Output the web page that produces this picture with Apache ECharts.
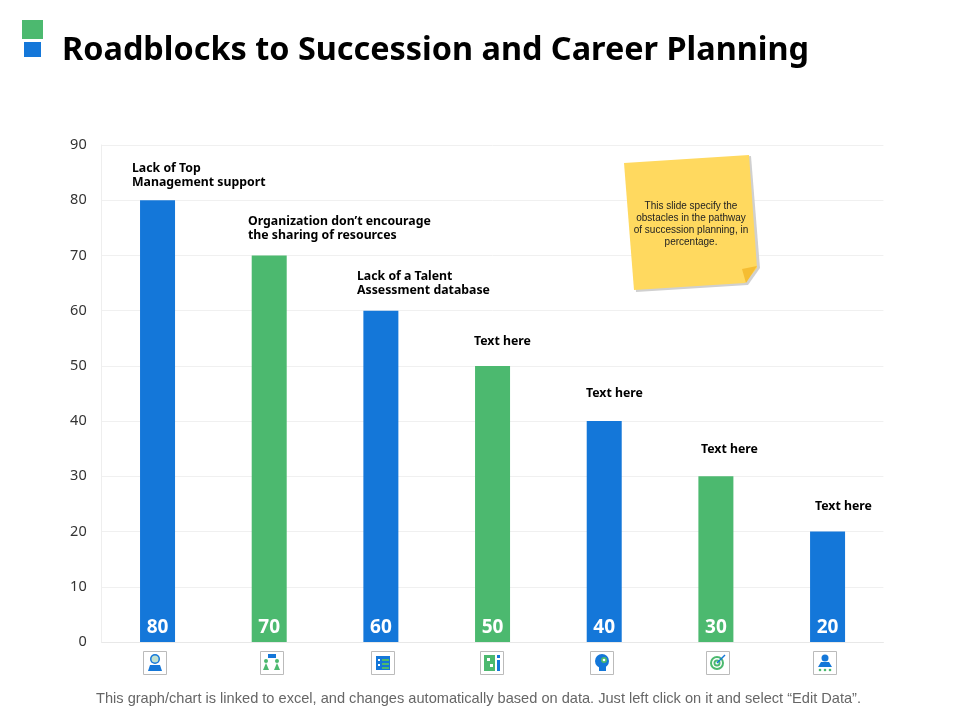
<!DOCTYPE html>
<html>
<head>
<meta charset="utf-8">
<style>
  html, body { margin: 0; padding: 0; background: #fff; }
  #chart { width: 960px; height: 720px; }
</style>
<script src="https://cdn.jsdelivr.net/npm/echarts@6/dist/echarts.min.js"></script>
</head>
<body>
<div id="chart"></div>
<script>
const categories = ['Lack of Top Management support', 'Organization don\u2019t encourage the sharing of resources', 'Lack of a Talent Assessment database', 'Text here 1', 'Text here 2', 'Text here 3', 'Text here 4'];
const values = [80, 70, 60, 50, 40, 30, 20];
const yTicks = [0, 10, 20, 30, 40, 50, 60, 70, 80, 90];

const BLUE = '#1477D9';
const GREEN = '#4CB96F';
const barColors = [BLUE, GREEN, BLUE, GREEN, BLUE, GREEN, BLUE];

const titleText = 'Roadblocks to Succession and Career Planning';
const footerText = 'This graph/chart is linked to excel, and changes automatically based on data. Just left click on it and select \u201cEdit Data\u201d.';
const noteText = 'This slide specify the\nobstacles in the pathway\nof succession planning, in\npercentage.';

// annotation text above the bars: [x, y, text]
const annotations = [
  [132, 161, 'Lack of Top\nManagement support'],
  [248, 214, 'Organization don\u2019t encourage\nthe sharing of resources'],
  [357, 269, 'Lack of a Talent\nAssessment database'],
  [474, 334, 'Text here'],
  [586, 386, 'Text here'],
  [701, 442, 'Text here'],
  [815, 499, 'Text here']
];

const iconBoxes = [[143, 651], [260, 651], [371, 651], [480, 651], [590, 651], [706, 651], [813, 651]];

function rect(x, y, w, h, fill) { return { type: 'rect', shape: { x, y, width: w, height: h }, style: { fill } }; }
function circle(cx, cy, r, fill) { return { type: 'circle', shape: { cx, cy, r }, style: { fill } }; }
function poly(points, fill) { return { type: 'polygon', z: 10, shape: { points }, style: { fill } }; }

// small pictograms under the axis, coordinates relative to a 23px box
const iconDrawers = [
  () => [circle(12, 8, 5, BLUE), circle(12, 8, 3.5, '#bfe0d0'), poly([[5, 20], [7, 14], [17, 14], [19, 20]], BLUE)],
  () => [rect(8, 3, 8, 4, BLUE), circle(6, 10, 2, GREEN), circle(17, 10, 2, GREEN),
         poly([[3, 19], [6, 12], [9, 19]], GREEN), poly([[14, 19], [17, 12], [20, 19]], GREEN)],
  () => [rect(5, 5, 14, 14, BLUE), rect(11, 8, 7, 2, GREEN), rect(11, 12, 7, 2, GREEN), rect(11, 16, 7, 2, GREEN), rect(7, 8, 2, 2, '#fff'), rect(7, 13, 2, 2, '#fff')],
  () => [rect(4, 4, 11, 16, GREEN), rect(7, 7, 3, 3, '#fff'), rect(10, 13, 3, 3, '#fff'), rect(17, 4, 3, 3, BLUE), rect(17, 9, 3, 11, BLUE)],
  () => [circle(12, 10, 7, BLUE), rect(9, 15, 7, 5, BLUE), circle(14, 9, 3, GREEN), circle(14, 9, 1.3, '#fff')],
  () => [circle(11, 12, 7, GREEN), circle(11, 12, 5, '#fff'), circle(11, 12, 3.5, GREEN), circle(11, 12, 1.6, '#fff'),
         { type: 'line', shape: { x1: 11, y1: 12, x2: 19, y2: 4 }, style: { stroke: BLUE, lineWidth: 1.5 } }],
  () => [circle(12, 7, 3.5, BLUE), poly([[5, 16], [8, 11], [16, 11], [19, 16]], BLUE),
         circle(7, 19, 1.3, GREEN), circle(12, 19, 1.3, GREEN), circle(17, 19, 1.3, GREEN)]
];

const graphics = [];
graphics.push(rect(22, 20, 21, 19, GREEN), rect(24, 42, 17, 15, BLUE));
graphics.push({ type: 'text', style: { x: 62, y: 51, text: titleText, fill: '#000', font: 'bold 32.4px "Noto Sans"', textVerticalAlign: 'middle' } });
graphics.push({ type: 'text', style: { x: 478.5, y: 699, text: footerText, fill: '#666', font: '14.6px "Liberation Sans"', textAlign: 'center', textVerticalAlign: 'middle' } });

annotations.forEach(([x, y, text]) => {
  graphics.push({ type: 'text', z: 5, style: { x, y: y + 0.5, text, fill: '#000', font: 'bold 12.3px "Noto Sans"', lineHeight: 14 } });
});

// sticky note
graphics.push(poly([[627, 165], [751, 156], [760, 268], [748, 285], [636, 292]], '#d0d0d0'));
graphics.push(poly([[624, 163], [749, 155], [757, 268], [745, 283], [634, 290]], '#FFD95F'));
graphics.push(poly([[742, 269], [757, 266], [746, 283]], '#F5BD32'));
graphics.push({ type: 'text', z: 11, style: { x: 691, y: 224, text: noteText, fill: '#222', font: '10px "Liberation Sans"', lineHeight: 12, textAlign: 'center', textVerticalAlign: 'middle' } });

iconBoxes.forEach(([x, y], i) => {
  graphics.push({
    type: 'group', x, y,
    children: [{ type: 'rect', shape: { x: 0.5, y: 0.5, width: 23, height: 23 }, style: { fill: '#fff', stroke: '#bbb', lineWidth: 1 } }].concat(iconDrawers[i]())
  });
});

const chart = echarts.init(document.getElementById('chart'), null, { renderer: 'canvas' });
chart.setOption({
  animation: false,
  backgroundColor: '#fff',
  grid: { left: 101.7, right: 76.6, top: 145, bottom: 78 },
  xAxis: {
    type: 'category',
    data: categories,
    axisTick: { show: false },
    axisLabel: { show: false },
    axisLine: { lineStyle: { color: '#e8e8e8' } }
  },
  yAxis: {
    type: 'value',
    min: yTicks[0],
    max: yTicks[yTicks.length - 1],
    interval: 10,
    axisLine: { show: true, lineStyle: { color: '#eeeeee' } },
    axisTick: { show: false },
    axisLabel: { color: '#333', fontSize: 14.5, fontFamily: 'Noto Sans', margin: 15, padding: [2, 0, 0, 0] },
    splitLine: { lineStyle: { color: '#f0f0f0' } }
  },
  series: [{
    type: 'bar',
    data: values.map((v, i) => ({ value: v, itemStyle: { color: barColors[i] } })),
    barWidth: 35,
    label: {
      show: true,
      position: 'insideBottom',
      distance: 5,
      color: '#fff',
      fontFamily: 'Noto Sans',
      fontWeight: 'bold',
      fontSize: 19
    }
  }],
  graphic: graphics
});
</script>
</body>
</html>
